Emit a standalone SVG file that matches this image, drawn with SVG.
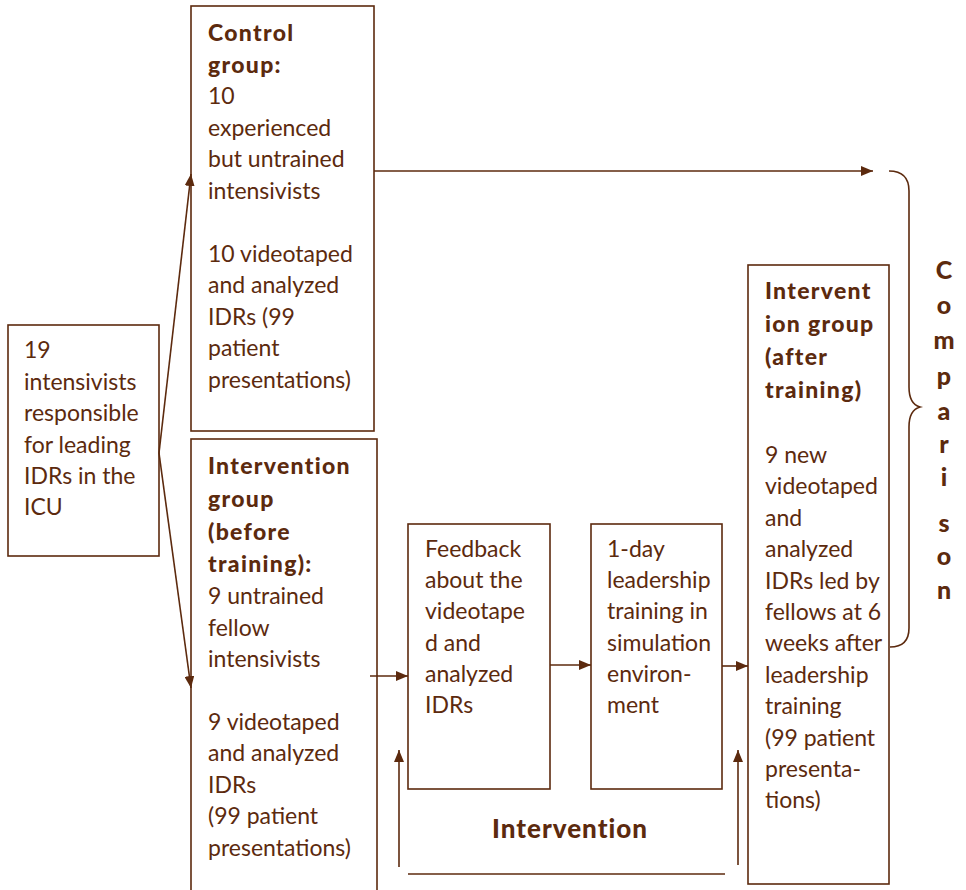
<svg xmlns="http://www.w3.org/2000/svg" width="966" height="890" viewBox="0 0 966 890">
<style>
.box{fill:#fff;stroke:#5c2a0e;stroke-width:1.6}
.ln{fill:none;stroke:#5c2a0e;stroke-width:1.6}
text{font-family:Lato,"Open Sans",sans-serif;font-size:23px;fill:#5c2a0e}
.b{font-weight:900;letter-spacing:1.3px}
.lbl{font-weight:900;font-size:26px;letter-spacing:1px;text-anchor:middle}
.cmp{font-weight:900;font-size:25px;text-anchor:middle}
</style>
<defs>
<marker id="ah" viewBox="0 0 12 10" refX="12" refY="5" markerWidth="12" markerHeight="10" markerUnits="userSpaceOnUse" orient="auto">
<path d="M0,0 L12,5 L0,10 z" fill="#5c2a0e"/>
</marker>
</defs>
<rect width="966" height="890" fill="#fff"/>

<g id="start">
<rect class="box" x="8" y="325" width="151" height="231"/>
<text><tspan x="24" y="358">19</tspan><tspan x="24" y="389.5">intensivists</tspan><tspan x="24" y="421">responsible</tspan><tspan x="24" y="452.5">for leading</tspan><tspan x="24" y="484">IDRs in the</tspan><tspan x="24" y="515">ICU</tspan></text>
</g>

<g id="control">
<rect class="box" x="191" y="6" width="183" height="425"/>
<text><tspan class="b" x="208" y="41">Control</tspan><tspan class="b" x="208" y="73">group:</tspan><tspan x="208" y="104">10</tspan><tspan x="208" y="135.5">experienced</tspan><tspan x="208" y="167">but untrained</tspan><tspan x="208" y="198.5">intensivists</tspan><tspan x="208" y="261.5">10 videotaped</tspan><tspan x="208" y="293">and analyzed</tspan><tspan x="208" y="324.5">IDRs (99</tspan><tspan x="208" y="356">patient</tspan><tspan x="208" y="387.5">presentations)</tspan></text>
</g>

<g id="before">
<rect class="box" x="191" y="439" width="186" height="460"/>
<text><tspan class="b" x="208" y="474">Intervention</tspan><tspan class="b" x="208" y="507">group</tspan><tspan class="b" x="208" y="540">(before</tspan><tspan class="b" x="208" y="572">training):</tspan><tspan x="208" y="604">9 untrained</tspan><tspan x="208" y="635.5">fellow</tspan><tspan x="208" y="667">intensivists</tspan><tspan x="208" y="729.5">9 videotaped</tspan><tspan x="208" y="761">and analyzed</tspan><tspan x="208" y="792.5">IDRs</tspan><tspan x="208" y="824">(99 patient</tspan><tspan x="208" y="855.5">presentations)</tspan></text>
</g>

<g id="feedback">
<rect class="box" x="408" y="524" width="142" height="265"/>
<text><tspan x="425" y="557">Feedback</tspan><tspan x="425" y="588">about the</tspan><tspan x="425" y="619">videotape</tspan><tspan x="425" y="651">d and</tspan><tspan x="425" y="682">analyzed</tspan><tspan x="425" y="713">IDRs</tspan></text>
</g>

<g id="training">
<rect class="box" x="591" y="524" width="131" height="265"/>
<text><tspan x="607" y="557">1-day</tspan><tspan x="607" y="588">leadership</tspan><tspan x="607" y="619">training in</tspan><tspan x="607" y="651">simulation</tspan><tspan x="607" y="682">environ-</tspan><tspan x="607" y="713">ment</tspan></text>
</g>

<g id="after">
<rect class="box" x="748" y="265" width="141" height="619"/>
<text><tspan class="b" x="765" y="299">Intervent</tspan><tspan class="b" x="765" y="332">ion group</tspan><tspan class="b" x="765" y="365">(after</tspan><tspan class="b" x="765" y="398">training)</tspan><tspan x="765" y="463">9 new</tspan><tspan x="765" y="494.4">videotaped</tspan><tspan x="765" y="525.8">and</tspan><tspan x="765" y="557.2">analyzed</tspan><tspan x="765" y="588.6">IDRs led by</tspan><tspan x="765" y="620">fellows at 6</tspan><tspan x="765" y="651.4">weeks after</tspan><tspan x="765" y="682.8">leadership</tspan><tspan x="765" y="714.2">training</tspan><tspan x="765" y="745.6">(99 patient</tspan><tspan x="765" y="777">presenta-</tspan><tspan x="765" y="808.4">tions)</tspan></text>
</g>

<g id="intervention-label">
<text class="lbl" x="570" y="838">Intervention</text>
</g>

<g id="comparison">
<path class="ln" d="M889,171 Q909,171 909,191 L909,387 Q909,404 920,407 Q909,410 909,427 L909,628 Q909,647 890,647"/>
<text class="cmp"><tspan x="944" y="279">C</tspan><tspan x="944" y="314">o</tspan><tspan x="944" y="349">m</tspan><tspan x="944" y="385">p</tspan><tspan x="944" y="420">a</tspan><tspan x="944" y="453">r</tspan><tspan x="944" y="486">i</tspan><tspan x="944" y="532">s</tspan><tspan x="944" y="565">o</tspan><tspan x="944" y="599">n</tspan></text>
</g>

<g id="connectors">
<line class="ln" x1="159" y1="453" x2="191" y2="174" marker-end="url(#ah)"/>
<line class="ln" x1="159" y1="453" x2="191" y2="688" marker-end="url(#ah)"/>
<line class="ln" x1="374" y1="171" x2="873" y2="171" marker-end="url(#ah)"/>
<line class="ln" x1="370" y1="676" x2="408" y2="676" marker-end="url(#ah)"/>
<line class="ln" x1="550" y1="665" x2="591" y2="665" marker-end="url(#ah)"/>
<line class="ln" x1="722" y1="666" x2="748" y2="666" marker-end="url(#ah)"/>
<line class="ln" x1="399" y1="867" x2="399" y2="750" marker-end="url(#ah)"/>
<line class="ln" x1="738" y1="865" x2="738" y2="750" marker-end="url(#ah)"/>
<line class="ln" x1="408" y1="874" x2="725" y2="874"/>
</g>
</svg>
